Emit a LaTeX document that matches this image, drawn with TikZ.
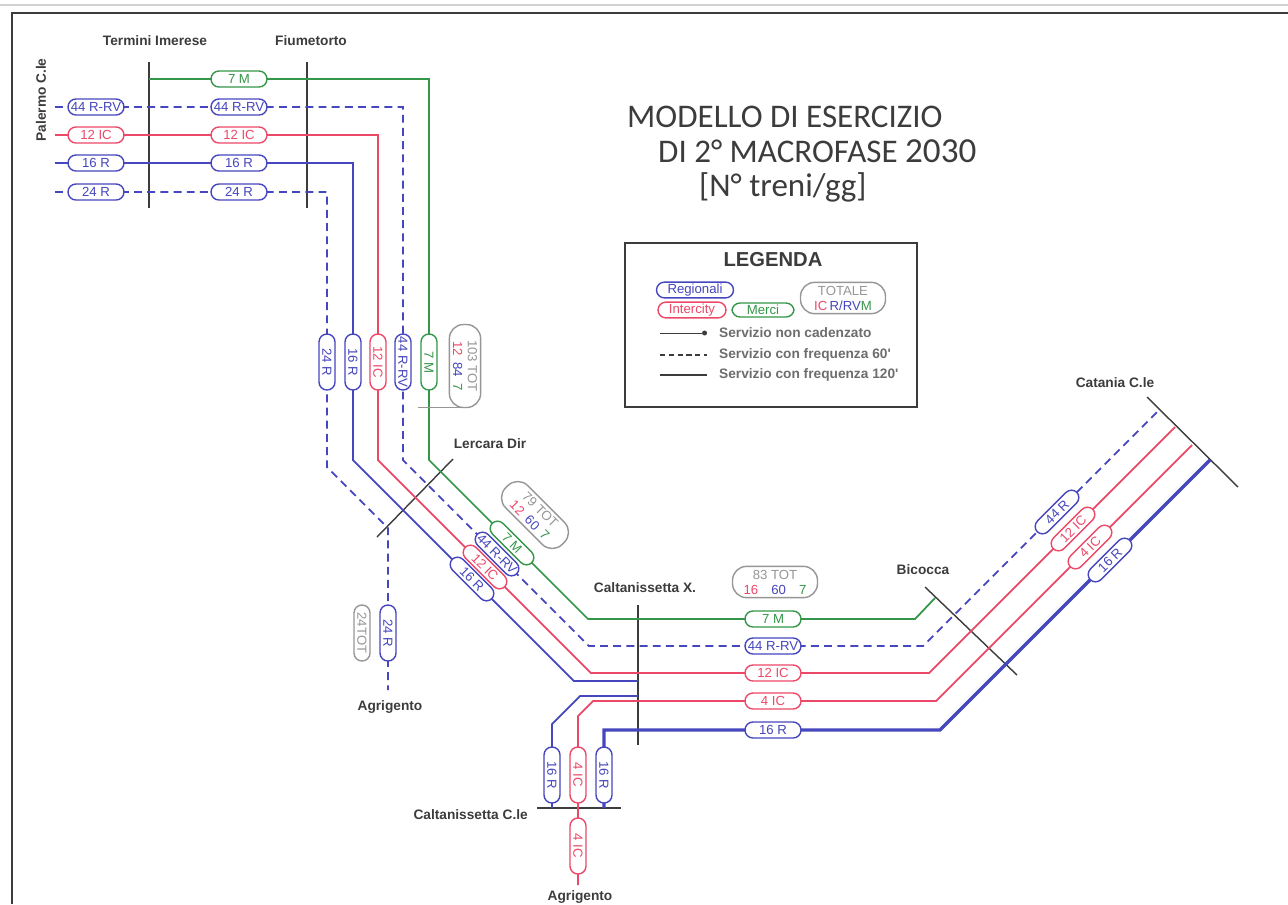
\documentclass[tikz,border=0pt]{standalone}
\usepackage{fontspec}
\setmainfont{Liberation Sans}
\newfontfamily\titlefont{Carlito}
\usepackage{xcolor}
\usetikzlibrary{arrows.meta}
\definecolor{trainblue}{RGB}{70, 70, 190}
\definecolor{icred}{RGB}{236, 72, 104}
\definecolor{merigreen}{RGB}{52, 150, 72}
\definecolor{totgray}{RGB}{150, 150, 150}
\definecolor{inkgray}{RGB}{60, 60, 60}

\begin{document}
\begin{tikzpicture}[
    x=0.02cm, y=-0.02cm,
    font=\fontsize{7.5}{8}\selectfont,
    track/.style={line width=1pt},
    every60/.style={line width=1pt, dash pattern=on 4.5pt off 3pt},
    every120/.style={line width=1.9pt},
    stn/.style={draw=inkgray, line width=0.8pt},
    stnlabel/.style={font=\bfseries\fontsize{7.8}{9}\selectfont, text=inkgray},
    titletext/.style={anchor=base west, font=\titlefont\fontsize{18.8}{20}\selectfont, text=inkgray},
    pill/.style={draw, fill=white, line width=0.8pt, rounded corners=4.5pt, minimum width=1.12cm, minimum height=0.32cm, inner sep=1pt},
    rpill/.style={pill, draw=trainblue, text=trainblue},
    icpill/.style={pill, draw=icred, text=icred},
    mpill/.style={pill, draw=merigreen, text=merigreen},
    totpill/.style={pill, draw=totgray, text=totgray, align=center, rounded corners=8pt, inner sep=2pt, font=\fontsize{7.5}{8.5}\selectfont}
]
    \useasboundingbox (0,0) rectangle (1288,904);
    % cornice della scansione
    \draw[gray!35, line width=0.8pt] (0,5) -- (1288,5);
    \draw[inkgray, line width=1.2pt] (12,904) -- (12,13) -- (1288,13);

    % titolo
    \node[titletext] (title1) at (621,127) {MODELLO DI ESERCIZIO};
    \node[titletext] (title2) at (652,162) {DI 2° MACROFASE {\fontsize{20}{20}\selectfont 2030}};
    \node[titletext] (title3) at (693,196) {[N° treni/gg]};

    % legenda
    \draw[inkgray, line width=0.8pt] (625,243) rectangle (917,407);
    \node[font=\bfseries\fontsize{11.5}{12}\selectfont, text=inkgray] (legtitle) at (773,260) {LEGENDA};
    \node[rpill, minimum width=1.54cm, minimum height=0.28cm] (legr) at (695,290) {Regionali};
    \node[icpill, minimum width=1.36cm, minimum height=0.28cm] (legic) at (692,310) {Intercity};
    \node[mpill, minimum width=1.24cm, minimum height=0.28cm] (legm) at (763,310) {Merci};
    \node[totpill, minimum width=1.7cm] (legtot) at (843,298) {TOTALE\\\textcolor{icred}{IC}\,\textcolor{trainblue}{R/RV}\textcolor{merigreen}{M}};
    \draw[inkgray, line width=0.4pt, -{Circle[length=2.8pt]}] (660,333) -- (707,333);
    \draw[inkgray, line width=0.8pt, dash pattern=on 3pt off 2pt] (660,355) -- (707,355);
    \draw[inkgray, line width=1.6pt] (660,375) -- (707,375);
    \foreach \y/\txt in {333/Servizio non cadenzato, 355/Servizio con frequenza 60\textquotesingle, 375/Servizio con frequenza 120\textquotesingle}
        \node[anchor=west, font=\bfseries\fontsize{7.8}{9}\selectfont, text=inkgray!75] (leg-\y) at (713,\y) {\txt};

    % stazioni
    \draw[stn] (149,62) -- (149,208);
    \draw[stn] (307,62) -- (307,208);
    \draw[stn] (377,537) -- (453,459);
    \draw[stn] (638,605) -- (638,745);
    \draw[stn] (537,808) -- (621,808);
    \draw[stn] (925,587) -- (1017,675);
    \draw[stn] (1147,397) -- (1238,487);
    \node[stnlabel] (termini) at (155,41) {Termini Imerese};
    \node[stnlabel] (fiume) at (311,41) {Fiumetorto};
    \node[stnlabel, rotate=90] (palermo) at (41,100) {Palermo C.le};
    \node[stnlabel] (lercara) at (490,444) {Lercara Dir};
    \node[stnlabel] (caltx) at (645,588) {Caltanissetta X.};
    \node[stnlabel] (agr1) at (390,707) {Agrigento};
    \node[stnlabel, anchor=east] (caltcle) at (534,815) {Caltanissetta C.le};
    \node[stnlabel] (agr2) at (580,897) {Agrigento};
    \node[stnlabel] (bicocca) at (923,570) {Bicocca};
    \node[stnlabel] (catania) at (1115,383) {Catania C.le};

    % binari
    \draw[track, merigreen] (149,79) -- (429,79) -- (429,460) -- (588,619) -- (915,619) -- (935,598);
    \draw[every60, trainblue] (55,107) -- (403,107) -- (403,460) -- (589,646) -- (923,646) -- (1158,411);
    \draw[track, icred] (55,135) -- (378,135) -- (378,460) -- (591,673) -- (929,673) -- (1175,427);
    \draw[track, trainblue] (55,163) -- (353,163) -- (353,460) -- (574,681) -- (638,681);
    \draw[every60, trainblue] (55,192) -- (327,192) -- (327,467) -- (388,528) -- (388,690);
    \draw[track, icred] (578,885) -- (578,716) -- (593,701) -- (936,701) -- (1192,445);
    \draw[track, trainblue] (552,808) -- (552,724) -- (580,696) -- (638,696);
    \draw[every120, trainblue] (604,808) -- (604,730) -- (940,730) -- (1210,460);
    \draw[totgray, line width=0.5pt] (418,407) -- (470,407);

    % treni/gg
    \foreach \y/\txt/\sty in {107/44 R-RV/rpill, 135/12 IC/icpill, 163/16 R/rpill, 192/24 R/rpill}
        \node[\sty] (pal-\y) at (96,\y) {\txt};
    \foreach \y/\txt/\sty in {79/7 M/mpill, 107/44 R-RV/rpill, 135/12 IC/icpill, 163/16 R/rpill, 192/24 R/rpill}
        \node[\sty] (fiu-\y) at (239,\y) {\txt};
    \foreach \x/\txt/\sty in {327/24 R/rpill, 353/16 R/rpill, 378/12 IC/icpill, 403/44 R-RV/rpill, 429/7 M/mpill}
        \node[\sty, rotate=-90] (ler-\x) at (\x,362) {\txt};
    \node[totpill, rotate=-90, minimum width=1.66cm] (tot103) at (465,366) {103 TOT\\\textcolor{icred}{12}\enspace\textcolor{trainblue}{84}\enspace\textcolor{merigreen}{7}};
    \foreach \x/\y/\txt/\sty in {512/543/7 M/mpill, 497/554/44 R-RV/rpill, 485/567/12 IC/icpill, 472/579/16 R/rpill}
        \node[\sty, rotate=-45, minimum height=0.3cm] (dia-\x) at (\x,\y) {\txt};
    \node[totpill, rotate=-45, minimum width=1.6cm] (tot79) at (535,515) {79 TOT\\\textcolor{icred}{12}\enspace\textcolor{trainblue}{60}\enspace\textcolor{merigreen}{7}};
    \node[rpill, rotate=-90] (agr-r) at (388,633) {24 R};
    \node[totpill, rotate=-90, rounded corners=4.5pt, inner sep=1pt, minimum width=1.12cm, minimum height=0.32cm] (tot24) at (362,633) {24TOT};
    \foreach \y/\txt/\sty in {619/7 M/mpill, 646/44 R-RV/rpill, 673/12 IC/icpill, 701/4 IC/icpill, 730/16 R/rpill}
        \node[\sty] (cx-\y) at (773,\y) {\txt};
    \node[totpill, minimum width=1.7cm] (tot83) at (775,582) {83 TOT\\\textcolor{icred}{16}\quad\textcolor{trainblue}{60}\quad\textcolor{merigreen}{7}};
    \foreach \x/\y/\txt/\sty in {1057/512/44 R/rpill, 1073/529/12 IC/icpill, 1090/547/4 IC/icpill, 1110/560/16 R/rpill}
        \node[\sty, rotate=45, minimum height=0.3cm] (cat-\x) at (\x,\y) {\txt};
    \foreach \x/\txt/\sty in {552/16 R/rpill, 578/4 IC/icpill, 604/16 R/rpill}
        \node[\sty, rotate=-90] (ccl-\x) at (\x,775) {\txt};
    \node[icpill, rotate=-90] (agr-ic) at (578,846) {4 IC};
\end{tikzpicture}
\end{document}
